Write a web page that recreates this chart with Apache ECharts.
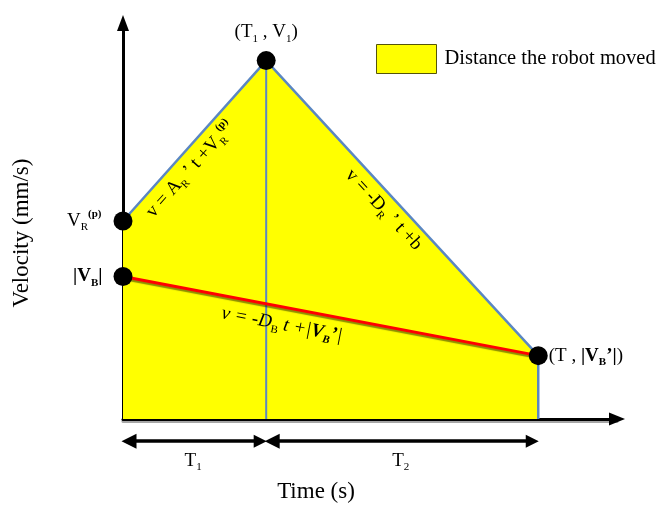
<!DOCTYPE html>
<html><head><meta charset="utf-8">
<script src="https://cdn.jsdelivr.net/npm/echarts@6/dist/echarts.min.js"></script>
<style>html,body{margin:0;padding:0;background:#fff}#c{width:661px;height:511px}</style>
</head><body><div id="c"></div>
<script>
// ---- data (time in units of T1, velocity in arbitrary units) ----
const profileTime = [0, 1.0, 2.9, 2.9];
const profileVelocity = [5.0, 9.05, 1.6, 0];
const t1MarkerTime = [1.0, 1.0];
const t1MarkerVelocity = [0, 9.05];
const brakeTime = [0, 2.9];
const brakeVelocity = [3.6, 1.6];
const dotTime = [0, 1.0, 2.9, 0];
const dotVelocity = [5.0, 9.05, 1.6, 3.6];
const spanStart = [0, 1.0];
const spanEnd = [1.0, 2.9];
const spanLabels = ['T1', 'T2'];
const legendName = 'Distance the robot moved';

const F = "'Liberation Serif','Times New Roman',serif";
const C = '#000';
const BLUE = '#5b87c2';
const richBase = {
  n: {fontFamily: F, fontSize: 19, color: C, lineHeight: 24},
  s: {fontFamily: F, fontSize: 11, color: C, lineHeight: 14, verticalAlign: 'bottom'},
  sp: {fontFamily: F, fontSize: 11, fontWeight: 'bold', color: C, lineHeight: 14, verticalAlign: 'top'},
  b: {fontFamily: F, fontSize: 19, fontWeight: 'bold', color: C, lineHeight: 24},
  bs: {fontFamily: F, fontSize: 11, fontWeight: 'bold', color: C, lineHeight: 14, verticalAlign: 'bottom'},
  i: {fontFamily: F, fontSize: 19, fontStyle: 'italic', color: C, lineHeight: 24},
  is: {fontFamily: F, fontSize: 11, color: C, lineHeight: 14, verticalAlign: 'bottom'},
  ib: {fontFamily: F, fontSize: 19, fontStyle: 'italic', fontWeight: 'bold', color: C, lineHeight: 24},
  ibs: {fontFamily: F, fontSize: 11, fontStyle: 'italic', fontWeight: 'bold', color: C, lineHeight: 14, verticalAlign: 'bottom'}
};

const dotLabels = [
  {position: 'left', distance: 12, formatter: '{n|V}{s|R}{sp|(p)}'},
  {position: 'top', distance: 7, formatter: '{n|(T}{s|1}{n| , V}{s|1}{n|)}'},
  {position: 'right', distance: 1, formatter: '{n|(T , }{b||V}{bs|B}{b|’|}{n|)}'},
  {position: 'left', distance: 11, formatter: '{b||V}{bs|B}{b||}'}
];
const eqTime = [0.47, 1.82, 1.11];
const eqVelocity = [6.3, 5.28, 2.38];
const eqText = [
  '{n|v = A}{s|R}{n| ’ t +V}{s|R}{sp|(p)}',
  '{n|v = -D}{s|R}{n| ’ t +b}',
  '{i|v = -D}{is|B}{i| t +|}{ib|V}{ibs|B}{ib|’}{i||}'
];
const eqRotate = [48, -47, -11];

const arrowY = -0.56, spanLabelY = -1.05;
const pxPerUnit = 494 / 3.45;
const inset = 6 / pxPerUnit;

const chart = echarts.init(document.getElementById('c'), null, {renderer: 'canvas'});
chart.setOption({
  animation: false,
  grid: {left: 123, top: 23, width: 494, height: 396},
  xAxis: {
    type: 'value', min: 0, max: 3.45,
    axisLine: {show: true, symbol: ['none', 'triangle'], symbolSize: [13, 16], lineStyle: {color: '#000', width: 3, shadowColor: 'rgba(0,0,0,0.35)', shadowOffsetY: 2}},
    axisTick: {show: false}, axisLabel: {show: false}, splitLine: {show: false}
  },
  yAxis: {
    type: 'value', min: 0, max: 10,
    axisLine: {show: true, symbol: ['none', 'triangle'], symbolSize: [12, 16], lineStyle: {color: '#000', width: 3}},
    axisTick: {show: false}, axisLabel: {show: false}, splitLine: {show: false}
  },
  legend: {
    left: 376, top: 44, padding: 0, selectedMode: false,
    itemWidth: 60, itemHeight: 29,
    data: [{name: legendName, icon: 'rect', itemStyle: {color: '#ffff00', borderColor: '#55550a', borderWidth: 1}}],
    textStyle: {fontFamily: F, fontSize: 20.5, color: C, padding: [0, 0, 0, 3]}
  },
  graphic: [
    {type: 'text', x: 22, y: 233, rotation: Math.PI / 2, style: {text: 'Velocity (mm/s)', font: "23px 'Liberation Serif'", fill: C, align: 'center', verticalAlign: 'middle'}},
    {type: 'text', x: 316, y: 492, style: {text: 'Time (s)', font: "23px 'Liberation Serif'", fill: C, align: 'center', verticalAlign: 'middle'}}
  ],
  series: [
    {
      name: legendName, type: 'line', z: 2, showSymbol: false, silent: true,
      data: profileTime.map((t, i) => [t, profileVelocity[i]]),
      lineStyle: {color: BLUE, width: 2.5},
      areaStyle: {color: '#ffff00', opacity: 1}
    },
    {
      name: 't1', type: 'line', z: 3, showSymbol: false, silent: true,
      data: t1MarkerTime.map((t, i) => [t, t1MarkerVelocity[i]]),
      lineStyle: {color: BLUE, width: 2}
    },
    {
      name: 'brake', type: 'line', z: 4, showSymbol: false, silent: true,
      data: brakeTime.map((t, i) => [t, brakeVelocity[i]]),
      lineStyle: {color: '#ff0000', width: 3, shadowColor: 'rgba(0,0,0,0.45)', shadowOffsetY: 2, shadowBlur: 1}
    },
    {
      name: 'points', type: 'scatter', z: 6, symbolSize: 19, silent: true, clip: false,
      itemStyle: {color: '#000', opacity: 1},
      data: dotTime.map((t, i) => ({value: [t, dotVelocity[i]], label: Object.assign({show: true, rich: richBase}, dotLabels[i])}))
    },
    {
      name: 'equations', type: 'scatter', z: 7, symbolSize: 0, silent: true, clip: false,
      itemStyle: {opacity: 1},
      data: eqTime.map((t, i) => ({value: [t, eqVelocity[i]], label: {show: true, position: 'inside', rotate: eqRotate[i], formatter: eqText[i], rich: richBase}}))
    },
    {
      name: 'spans', type: 'lines', coordinateSystem: 'cartesian2d', z: 5, silent: true, clip: false,
      symbol: ['triangle', 'triangle'], symbolSize: [15, 13],
      lineStyle: {color: '#000', width: 3.5, opacity: 1},
      data: spanStart.map((s, i) => ({coords: [[s + inset, arrowY], [spanEnd[i] - inset, arrowY]]}))
    },
    {
      name: 'spanLabels', type: 'scatter', symbolSize: 0, silent: true, clip: false,
      itemStyle: {opacity: 1},
      data: spanStart.map((s, i) => ({value: [(s + spanEnd[i]) / 2 - 0.01, spanLabelY],
        label: {show: true, position: 'inside', rich: richBase, formatter: '{n|T}{s|' + spanLabels[i].slice(1) + '}'}}))
    }
  ]
});
</script></body></html>
